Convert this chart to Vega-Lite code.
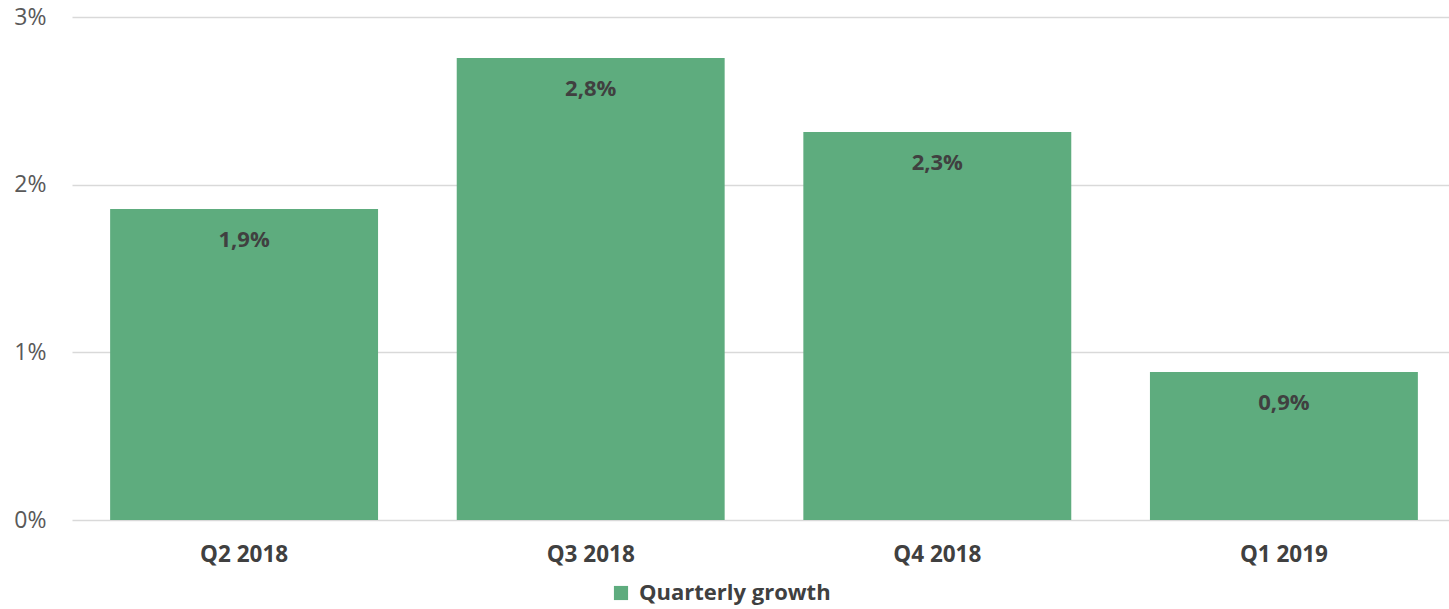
{
  "$schema": "https://vega.github.io/schema/vega-lite/v6.json",
  "autosize": {"type": "none"},
  "width": 1384,
  "height": 503,
  "padding": {"left": 72, "top": 17, "right": -7, "bottom": 89},
  "background": "white",
  "config": {
    "view": {"stroke": null},
    "font": "Open Sans",
    "locale": {"number": {"decimal": ",", "thousands": ".", "grouping": [3], "currency": ["", " €"]}}
  },
  "data": {
    "values": [
      {"quarter": "Q2 2018", "growth": 0.01855, "series": "Quarterly growth"},
      {"quarter": "Q3 2018", "growth": 0.02755, "series": "Quarterly growth"},
      {"quarter": "Q4 2018", "growth": 0.02314, "series": "Quarterly growth"},
      {"quarter": "Q1 2019", "growth": 0.00883, "series": "Quarterly growth"}
    ]
  },
  "encoding": {
    "x": {
      "field": "quarter", "type": "nominal", "sort": null,
      "scale": {"paddingInner": 0.227, "paddingOuter": 0.11},
      "axis": {
        "title": null, "labelAngle": 0, "domain": false, "ticks": false,
        "labelFont": "Open Sans", "labelFontSize": 22.5, "labelFontWeight": "bold",
        "labelColor": "#404040", "labelPadding": 23
      }
    },
    "y": {
      "field": "growth", "type": "quantitative",
      "scale": {"domain": [0, 0.03], "nice": false},
      "axis": {
        "title": null, "values": [0, 0.01, 0.02, 0.03], "format": ".0%",
        "domain": false, "ticks": false, "gridColor": "#D9D9D9", "gridWidth": 1.5,
        "labelFont": "Open Sans", "labelFontSize": 23, "labelColor": "#595959",
        "labelPadding": 26
      }
    }
  },
  "layer": [
    {
      "mark": {"type": "bar", "color": "#5EAC7E"},
      "encoding": {
        "color": {
          "field": "series", "type": "nominal",
          "scale": {"range": ["#5EAC7E"]},
          "legend": {
            "title": null, "orient": "none", "legendX": 538, "legendY": 565,
            "symbolType": "square", "symbolSize": 200, "symbolStrokeWidth": 0,
            "labelFont": "Open Sans", "labelFontSize": 22, "labelFontWeight": "bold",
            "labelColor": "#404040", "labelOffset": 7, "labelLimit": 400
          }
        }
      }
    },
    {
      "mark": {"type": "text", "dy": 31, "baseline": "middle", "align": "center",
               "font": "Open Sans", "fontSize": 22, "fontWeight": "bold", "color": "#404040"},
      "encoding": {
        "text": {"field": "growth", "type": "quantitative", "format": ".1%"}
      }
    }
  ]
}
